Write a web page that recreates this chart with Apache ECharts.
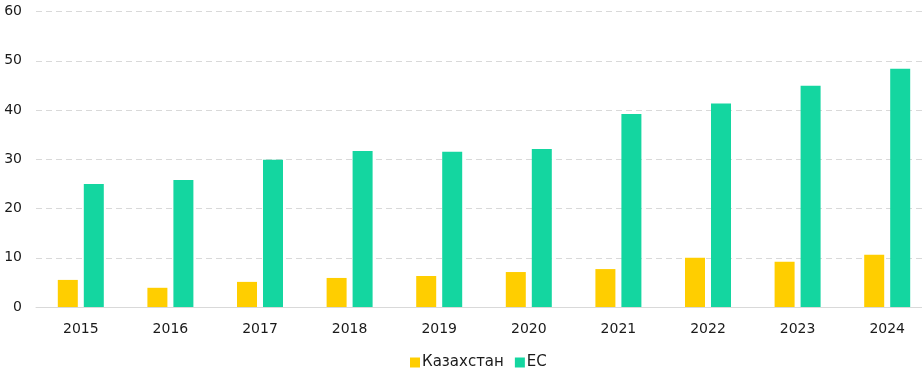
<!DOCTYPE html>
<html>
<head>
<meta charset="utf-8">
<script src="https://cdn.jsdelivr.net/npm/echarts@6/dist/echarts.min.js"></script>
<style>html,body{margin:0;padding:0;background:#fff;overflow:hidden}#c{width:932px;height:368px}</style>
</head>
<body>
<div id="c"></div>
<script>
const categories = ['2015','2016','2017','2018','2019','2020','2021','2022','2023','2024'];
const kazakhstan = [5.5, 3.9, 5.1, 5.9, 6.3, 7.1, 7.7, 10.0, 9.2, 10.6];
const eu = [25.0, 25.8, 29.9, 31.7, 31.5, 32.1, 39.2, 41.3, 44.9, 48.4];
const yTicks = { min: 0, max: 60, interval: 10 };
const seriesNames = ['Казахстан', 'ЕС'];

const font = 'DejaVu Sans, Verdana, sans-serif';
const chart = echarts.init(document.getElementById('c'), null, { renderer: 'canvas' });
chart.setOption({
  animation: false,
  color: ['#FFCE00', '#14D6A0'],
  grid: { left: 36, top: 11.5, right: 0, height: 295.5, containLabel: false },
  legend: {
    left: 405, top: 350, itemWidth: 10, itemHeight: 10, itemGap: 11,
    icon: 'rect',
    textStyle: { fontFamily: font, fontSize: 15, color: '#1a1a1a', padding: [0, 0, 0, -3] },
    data: seriesNames
  },
  xAxis: {
    type: 'category', data: categories,
    axisLine: { lineStyle: { color: '#d9d9d9', width: 1 } },
    axisTick: { show: false },
    axisLabel: { fontFamily: font, fontSize: 14, color: '#1a1a1a', margin: 15 }
  },
  yAxis: {
    type: 'value', min: yTicks.min, max: yTicks.max, interval: yTicks.interval,
    axisLine: { show: false }, axisTick: { show: false },
    axisLabel: { fontFamily: font, fontSize: 14, color: '#1a1a1a', margin: 14 },
    splitLine: { lineStyle: { color: '#d9d9d9', type: [6, 4], width: 1 } }
  },
  series: [
    { name: seriesNames[0], type: 'bar', data: kazakhstan, barWidth: 20, barGap: '30%' },
    { name: seriesNames[1], type: 'bar', data: eu, barWidth: 20, barGap: '30%' }
  ]
});
</script>
</body>
</html>
